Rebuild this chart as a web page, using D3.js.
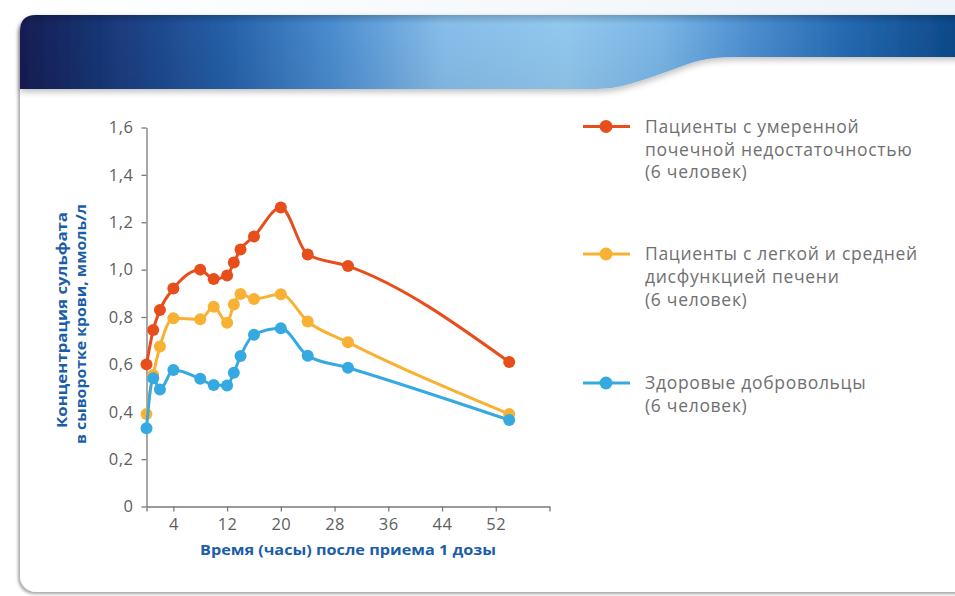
<!DOCTYPE html>
<html>
<head>
<meta charset="utf-8">
<script src="https://cdn.jsdelivr.net/npm/d3@7"></script>
<style>
  html, body { margin: 0; padding: 0; background: #ffffff; }
  svg { display: block; }
</style>
</head>
<body>
<svg id="chart" width="955" height="596"></svg>
<script>
// ---------- DATA ----------
const hours = [0, 1, 2, 4, 8, 10, 12, 13, 14, 16, 20, 24, 30, 54];
const renalValues   = [0.60, 0.745, 0.83, 0.92, 1.00, 0.96, 0.975, 1.03, 1.085, 1.14, 1.262, 1.064, 1.015, 0.61];
const hepaticValues = [0.39, 0.555, 0.675, 0.795, 0.79, 0.843, 0.776, 0.853, 0.897, 0.876, 0.896, 0.781, 0.693, 0.39];
const healthyValues = [0.33, 0.541, 0.494, 0.576, 0.539, 0.513, 0.511, 0.565, 0.635, 0.725, 0.752, 0.636, 0.586, 0.365];

const seriesNames = [
  ["Пациенты с умеренной", "почечной недостаточностью", "(6 человек)"],
  ["Пациенты с легкой и средней", "дисфункцией печени", "(6 человек)"],
  ["Здоровые добровольцы", "(6 человек)"]
];
const seriesColors = ["#e84e1c", "#f9b133", "#36a9e1"];

const yTicks = [0, 0.2, 0.4, 0.6, 0.8, 1.0, 1.2, 1.4, 1.6];
const xTicks = [4, 12, 20, 28, 36, 44, 52];
const xTitle = "Время (часы) после приема 1 дозы";
const yTitle = ["Концентрация сульфата", "в сыворотке крови, ммоль/л"];

// ---------- SETUP ----------
const svg = d3.select("#chart");
const defs = svg.append("defs");

const grad = defs.append("linearGradient").attr("id", "banner").attr("x1", "0").attr("x2", "1").attr("y1", "0").attr("y2", "0");
[[0, "#121d52"], [0.1, "#1a3a7c"], [0.22, "#2560a8"], [0.33, "#4a8ccf"], [0.45, "#86bde9"], [0.58, "#92c8ee"],
 [0.68, "#7ab6e6"], [0.78, "#4b8dcf"], [0.88, "#2569b0"], [1, "#0c4888"]]
  .forEach(([o, c]) => grad.append("stop").attr("offset", o).attr("stop-color", c));

const vgrad = defs.append("linearGradient").attr("id", "bannerShade").attr("x1", "0").attr("x2", "0").attr("y1", "0").attr("y2", "1");
vgrad.append("stop").attr("offset", 0).attr("stop-color", "#000").attr("stop-opacity", 0.18);
vgrad.append("stop").attr("offset", 0.12).attr("stop-color", "#000").attr("stop-opacity", 0.0);
vgrad.append("stop").attr("offset", 1).attr("stop-color", "#000").attr("stop-opacity", 0.05);

const topBg = defs.append("linearGradient").attr("id", "topBg").attr("x1", "0").attr("x2", "1");
topBg.append("stop").attr("offset", 0).attr("stop-color", "#ffffff");
topBg.append("stop").attr("offset", 1).attr("stop-color", "#eef4f9");

const shadow = defs.append("filter").attr("id", "cardShadow").attr("x", "-5%").attr("y", "-5%").attr("width", "110%").attr("height", "110%");
shadow.append("feDropShadow").attr("dx", -2).attr("dy", 2).attr("stdDeviation", 1.6)
  .attr("flood-color", "#000").attr("flood-opacity", 0.35);

const bShadow = defs.append("filter").attr("id", "bannerShadow").attr("x", "-5%").attr("y", "-30%").attr("width", "110%").attr("height", "170%");
bShadow.append("feDropShadow").attr("dx", 0).attr("dy", 3).attr("stdDeviation", 3)
  .attr("flood-color", "#000").attr("flood-opacity", 0.25);

// page background
svg.append("rect").attr("x", 0).attr("y", 0).attr("width", 955).attr("height", 40).attr("fill", "url(#topBg)");

// card
svg.append("rect").attr("x", 20).attr("y", 15).attr("width", 980).attr("height", 577)
  .attr("rx", 16).attr("fill", "#ffffff").attr("filter", "url(#cardShadow)");

// banner
const bannerPath = "M20,89 L20,31 Q20,15 36,15 L960,15 L960,57 L738,57 C712,57 700,60 688,64 C660,74 635,84 612,88 C600,89 592,89 585,89 Z";
svg.append("path").attr("d", bannerPath).attr("fill", "url(#banner)").attr("filter", "url(#bannerShadow)");
svg.append("path").attr("d", bannerPath).attr("fill", "url(#bannerShade)");

// ---------- SCALES ----------
const x = d3.scaleLinear().domain([0, 60]).range([146.5, 549.5]);
const y = d3.scaleLinear().domain([0, 1.6]).range([506.5, 127.5]);

const fmt = d => d === 0 ? "0" : d3.format(".1f")(d).replace(".", ",");

const axisColor = "#7a7a7a";
const tickTextColor = "#5e5e5e";
const fontFam = "'Open Sans', 'DejaVu Sans', sans-serif";

// y axis
const gy = svg.append("g").attr("transform", `translate(${x(0)},0)`)
  .call(d3.axisLeft(y).tickValues(yTicks).tickFormat(fmt).tickSizeInner(5).tickSizeOuter(0).tickPadding(8));
// x axis
const gx = svg.append("g").attr("transform", `translate(0,${y(0)})`)
  .call(d3.axisBottom(x).tickValues(xTicks).tickFormat(d3.format("d")).tickSizeInner(5).tickSizeOuter(5).tickPadding(7));

[gx, gy].forEach(g => {
  g.selectAll("path.domain").attr("stroke", axisColor).attr("stroke-width", 1.3);
  g.selectAll(".tick line").attr("stroke", axisColor).attr("stroke-width", 1.3);
  g.selectAll(".tick text").attr("fill", tickTextColor).style("font-family", fontFam).style("font-size", "16.5px")
    .style("letter-spacing", "0.5px");
});

// axis titles
svg.append("text").attr("x", 348).attr("y", 555).attr("text-anchor", "middle")
  .attr("fill", "#1a5da8").style("font-family", fontFam).style("font-weight", 700).style("font-size", "15px")
  .attr("textLength", 296).attr("lengthAdjust", "spacingAndGlyphs")
  .text(xTitle);

const yt = svg.append("g").attr("transform", "translate(0,320) rotate(-90)");
yt.append("text").attr("x", 0).attr("y", 67).attr("text-anchor", "middle")
  .attr("fill", "#1a5da8").style("font-family", fontFam).style("font-weight", 700).style("font-size", "15px")
  .attr("textLength", 216).attr("lengthAdjust", "spacingAndGlyphs")
  .text(yTitle[0]);
yt.append("text").attr("x", -4).attr("y", 86).attr("text-anchor", "middle")
  .attr("fill", "#1a5da8").style("font-family", fontFam).style("font-weight", 700).style("font-size", "15px")
  .attr("textLength", 240).attr("lengthAdjust", "spacingAndGlyphs")
  .text(yTitle[1]);

// ---------- SERIES ----------
const allSeries = [renalValues, hepaticValues, healthyValues];
const line = d3.line().x(d => x(d[0])).y(d => y(d[1])).curve(d3.curveMonotoneX);

[0, 1, 2].forEach(i => {
  const pts = hours.map((h, j) => [h, allSeries[i][j]]);
  const g = svg.append("g");
  g.append("path").attr("d", line(pts)).attr("fill", "none")
    .attr("stroke", seriesColors[i]).attr("stroke-width", 3).attr("stroke-linejoin", "round");
  g.selectAll("circle").data(pts).join("circle")
    .attr("cx", d => x(d[0])).attr("cy", d => y(d[1])).attr("r", 6)
    .attr("fill", seriesColors[i]);
});

// ---------- LEGEND ----------
const legendY = [126.5, 254, 383];
const legend = svg.append("g");
seriesNames.forEach((lines, i) => {
  const g = legend.append("g").attr("transform", `translate(0,${legendY[i]})`);
  g.append("line").attr("x1", 583).attr("x2", 630).attr("y1", 0).attr("y2", 0)
    .attr("stroke", seriesColors[i]).attr("stroke-width", 3);
  g.append("circle").attr("cx", 606).attr("cy", 0).attr("r", 6.5).attr("fill", seriesColors[i]);
  lines.forEach((t, k) => {
    g.append("text").attr("x", 645).attr("y", k * 22.7).attr("dy", "0.36em")
      .attr("fill", "#707070").style("font-family", fontFam).style("font-size", "17.5px")
      .style("letter-spacing", "0.7px")
      .text(t);
  });
});
</script>
</body>
</html>
